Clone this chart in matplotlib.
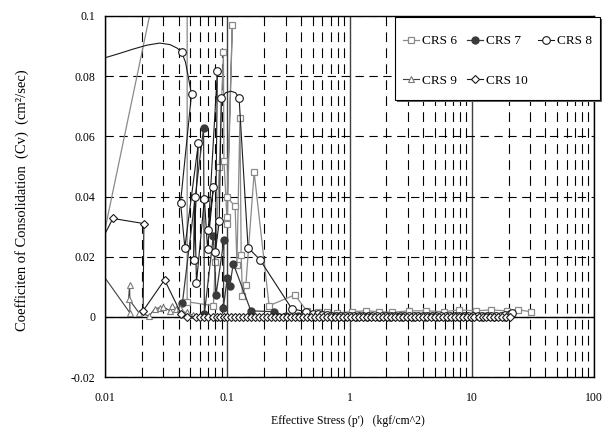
#!/usr/bin/env python3
"""Cv vs effective stress for CRS tests 6-10 (semi-log, Excel-style chart)."""

import matplotlib
matplotlib.use("Agg")
import matplotlib.pyplot as plt
from matplotlib.patches import Rectangle
from matplotlib.ticker import FixedLocator, LogLocator, NullFormatter

# ----------------------------------------------------------------------
# Data: effective stress (kgf/cm^2) and Cv (cm^2/sec)
# ----------------------------------------------------------------------
crs6_p = [0.0092, 0.047, 0.047, 0.077, 0.080, 0.086, 0.093, 0.094, 0.100, 0.100,
          0.110, 0.100, 0.116, 0.120, 0.127, 0.130, 0.133, 0.142, 0.166, 0.220,
          0.357, 0.447, 0.549, 0.650, 0.784, 1.04, 1.37, 1.75, 2.24, 3.07,
          4.23, 5.92, 7.84, 10.8, 14.3, 19.3, 24.1, 30.7]
crs6_cv = [0.022, 0.160, 0.005, 0.0037, 0.0183, 0.0497, 0.088, 0.0517, 0.031, 0.0333,
           0.097, 0.0397, 0.0367, 0.0173, 0.066, 0.0207, 0.007, 0.0107, 0.048, 0.0037,
           0.0073, 0.0020, 0.0015, 0.0017, 0.0013, 0.0017, 0.0020, 0.0017, 0.0015, 0.0020,
           0.0020, 0.0017, 0.0023, 0.0020, 0.0023, 0.0020, 0.0023, 0.0017]

crs7_p = [0.043, 0.064, 0.065, 0.077, 0.081, 0.094, 0.093, 0.100, 0.105, 0.112,
          0.156, 0.24, 0.30, 0.38, 0.47, 0.58, 0.72, 0.90, 1.12, 1.39,
          1.73, 2.15, 2.67, 3.32, 4.12, 5.12, 6.36, 7.90, 9.81, 12.2,
          15.2, 18.8]
crs7_cv = [0.0047, 0.0627, 0.001, 0.027, 0.0073, 0.0257, 0.003, 0.013, 0.0103, 0.0177,
           0.002, 0.0017, 0.0003, 0.0002, 0.0002, 0.0002, 0.0001, 0.0001, 0.0001, 0.0001,
           0.0001, 0.0001, 0.0001, 0.0001, 0.0001, 0.0001, 0.0001, 0.0001, 0.0001, 0.0001,
           0.0001, 0.0001]

# CRS 8 was drawn as a smoothed line; points listed in crs8_curve_idx are read
# from the curve itself (no marker there)
crs8_p = [0.0098, 0.013, 0.017, 0.022, 0.028, 0.034, 0.039,
          0.0423, 0.0455, 0.0484, 0.051,
          0.0415, 0.045, 0.058, 0.053, 0.054, 0.056, 0.065, 0.069, 0.077, 0.070,
          0.083, 0.080, 0.086, 0.0894,
          0.097, 0.107, 0.117,
          0.125, 0.148, 0.185, 0.337, 0.44,
          0.503, 0.548, 0.597, 0.651, 0.710, 0.773, 0.843, 0.919, 1.00, 1.09,
          1.19, 1.30, 1.41, 1.54, 1.68, 1.83, 1.99, 2.17, 2.37, 2.58,
          2.81, 3.07, 3.34, 3.64, 3.97, 4.33, 4.72, 5.14, 5.60, 6.11,
          6.66, 7.26, 7.91, 8.62, 9.40, 10.2, 11.2, 12.2, 13.3, 14.5,
          15.8, 17.2, 18.7, 20.4, 21.5]
crs8_cv = [0.086, 0.0875, 0.089, 0.0903, 0.091, 0.0905, 0.0893,
           0.088, 0.0847, 0.079, 0.074,
           0.038, 0.023, 0.0577, 0.019, 0.0397, 0.0113, 0.0393, 0.0227, 0.043, 0.029,
           0.0817, 0.0217, 0.0317, 0.0727,
           0.0745, 0.075, 0.0745,
           0.0727, 0.023, 0.019, 0.0027, 0.0017,
           0.0010, 0.0008, 0.0006, 0.0005, 0.0004, 0.0004, 0.0003, 0.0003, 0.0003, 0.0003,
           0.0003, 0.0003, 0.0003, 0.0003, 0.0003, 0.0003, 0.0003, 0.0003, 0.0003, 0.0003,
           0.0003, 0.0003, 0.0003, 0.0003, 0.0003, 0.0003, 0.0003, 0.0003, 0.0003, 0.0003,
           0.0003, 0.0003, 0.0003, 0.0003, 0.0003, 0.0003, 0.0003, 0.0003, 0.0003, 0.0003,
           0.0003, 0.0003, 0.0005, 0.0010, 0.0013]
crs8_curve_idx = [0, 1, 2, 3, 4, 5, 6, 8, 9, 25, 26, 27]

crs9_p = [0.0085, 0.016, 0.0159, 0.0156, 0.019, 0.023, 0.0255, 0.028, 0.030, 0.034,
          0.035, 0.038, 0.041, 0.044, 0.047, 0.052, 0.060, 0.070]
crs9_cv = [0.017, 0.0013, 0.0107, 0.006, 0.0013, 0.0003, 0.0027, 0.003, 0.0033, 0.002,
           0.0037, 0.0025, 0.003, 0.001, 0.0015, 0.0005, 0.0003, 0.0003]

crs10_p = [0.0085, 0.0116, 0.0208, 0.0205, 0.0307, 0.042, 0.047, 0.055, 0.060, 0.065,
           0.070, 0.076, 0.082, 0.088, 0.094,
           0.100, 0.108, 0.116, 0.125, 0.135, 0.146, 0.157, 0.169, 0.183, 0.197,
           0.212, 0.229, 0.247, 0.266, 0.287, 0.309, 0.333, 0.359, 0.387, 0.417,
           0.450, 0.485, 0.523, 0.564, 0.608, 0.655, 0.706, 0.761, 0.821, 0.885,
           0.954, 1.03, 1.11, 1.19, 1.29, 1.39, 1.49, 1.61, 1.74, 1.87,
           2.02, 2.17, 2.34, 2.53, 2.72, 2.94, 3.17, 3.41, 3.68, 3.97,
           4.28, 4.61, 4.97, 5.36, 5.78, 6.23, 6.71, 7.24, 7.80, 8.41,
           9.07, 9.77, 10.5, 11.4, 12.3, 13.2, 14.2, 15.3, 16.5, 17.8,
           19.2, 20.7]
crs10_cv = [0.022, 0.0327, 0.031, 0.002, 0.0123, 0.001, 0.0, 0.0, 0.0, 0.0,
            0.0, 0.0, 0.0, 0.0, 0.0,
            0.0, 0.0, 0.0, 0.0, 0.0, 0.0, 0.0, 0.0, 0.0, 0.0,
            0.0, 0.0, 0.0, 0.0, 0.0, 0.0, 0.0, 0.0, 0.0, 0.0,
            0.0, 0.0, 0.0, 0.0, 0.0, 0.0, 0.0, 0.0, 0.0, 0.0,
            0.0, 0.0, 0.0, 0.0, 0.0, 0.0, 0.0, 0.0, 0.0, 0.0,
            0.0, 0.0, 0.0, 0.0, 0.0, 0.0, 0.0, 0.0, 0.0, 0.0,
            0.0, 0.0, 0.0, 0.0, 0.0, 0.0, 0.0, 0.0, 0.0, 0.0,
            0.0, 0.0, 0.0, 0.0, 0.0, 0.0, 0.0, 0.0, 0.0, 0.0,
            0.0, 0.0]

x_ticks = [0.01, 0.1, 1, 10, 100]
x_tick_labels = ["0.01", "0.1", "1", "10", "100"]
y_ticks = [-0.02, 0.0, 0.02, 0.04, 0.06, 0.08, 0.1]
y_tick_labels = ["-0.02", "0", "0.02", "0.04", "0.06", "0.08", "0.1"]

W, H = 611, 430  # output size in pixels


def main() -> None:
    plt.rcParams["font.family"] = ["Liberation Serif", "DejaVu Serif"]
    plt.rcParams["lines.scale_dashes"] = False

    fig = plt.figure(figsize=(W / 100, H / 100), dpi=100)
    ax = fig.add_axes([105 / W, 1 - 377 / H, 489 / W, 361 / H])

    ax.set_xscale("log")
    ax.set_xlim(0.01, 100)
    ax.set_ylim(-0.02, 0.1)

    # gridlines: solid decades, dashed minor decades, dashed horizontals
    ax.set_axisbelow(True)
    ax.xaxis.set_major_locator(FixedLocator(x_ticks))
    ax.xaxis.set_minor_locator(LogLocator(base=10, subs=range(2, 10)))
    ax.xaxis.set_minor_formatter(NullFormatter())
    ax.set_xticklabels(x_tick_labels)
    ax.set_yticks(y_ticks)
    ax.set_yticklabels(y_tick_labels)
    ax.grid(which="major", axis="x", color="#404040", lw=1.0, ls="-")
    ax.grid(which="minor", axis="x", color="black", lw=0.8, ls=(0, (7, 4.5)))
    ax.grid(which="major", axis="y", color="black", lw=0.8, ls=(0, (6, 4)))
    ax.axhline(0, color="black", lw=1.0, zorder=1.5)

    ax.tick_params(which="both", length=0)
    ax.tick_params(axis="x", labelsize=8.5, pad=11)
    ax.tick_params(axis="y", labelsize=8.5, pad=7)
    for sp in ax.spines.values():
        sp.set_linewidth(1.0)
        sp.set_color("black")

    # series
    h6, = ax.plot(crs6_p, crs6_cv, color="#8a8a8a", lw=0.9, marker="s", ms=4.5,
                  mfc="white", mec="#8a8a8a", mew=0.9)
    h7, = ax.plot(crs7_p, crs7_cv, color="#3a3a3a", lw=0.9, marker="o", ms=5,
                  mfc="#3a3a3a", mec="#3a3a3a")
    marked8 = [i for i in range(len(crs8_p)) if i not in crs8_curve_idx]
    h8, = ax.plot(crs8_p, crs8_cv, color="#1a1a1a", lw=0.8, marker="o", ms=5.5,
                  mfc="white", mec="#1a1a1a", mew=0.8, markevery=marked8)
    h9, = ax.plot(crs9_p, crs9_cv, color="#404040", lw=0.8, marker="^", ms=5,
                  mfc="white", mec="#7a7a7a", mew=0.8)
    h10, = ax.plot(crs10_p, crs10_cv, color="#1a1a1a", lw=0.8, marker="D", ms=4,
                   mfc="white", mec="#1a1a1a", mew=0.8)

    ax.set_xlabel("Effective Stress (p')   (kgf/cm^2)", fontsize=8.5)
    ax.xaxis.set_label_coords(0.497, -0.105)
    ax.set_ylabel("Coefficiten of Consolidation  (Cv)  (cm²/sec)", fontsize=10.5)
    ax.yaxis.set_label_coords(-0.155, 0.49)

    # legend box (drawn by hand so the padding matches) with a thin shadow
    bx0, by0, bx1, by1 = 395, 17, 600, 100
    fig.patches.append(Rectangle((bx0 / W + 2 / W, 1 - by1 / H - 2 / H),
                                 (bx1 - bx0) / W, (by1 - by0) / H,
                                 transform=fig.transFigure, facecolor="#606060",
                                 edgecolor="none", zorder=3))
    fig.patches.append(Rectangle((bx0 / W, 1 - by1 / H),
                                 (bx1 - bx0) / W, (by1 - by0) / H,
                                 transform=fig.transFigure, facecolor="white",
                                 edgecolor="black", lw=0.8, zorder=4))

    # legend: two rows (6, 7, 8 / 9, 10) -> column-major handle order
    fig.legend([h6, h9, h7, h10, h8],
               ["CRS 6", "CRS 9", "CRS 7", "CRS 10", "CRS 8"],
               ncol=3, loc="center",
               bbox_to_anchor=((bx0 + bx1) / 2 / W, 1 - 61 / H),
               frameon=False, fontsize=9.5, handlelength=1.2, handletextpad=0.2,
               columnspacing=0.8, labelspacing=2.1, borderpad=0)

    fig.savefig("out.png", dpi=100, facecolor="white")
    plt.close(fig)


if __name__ == "__main__":
    main()
